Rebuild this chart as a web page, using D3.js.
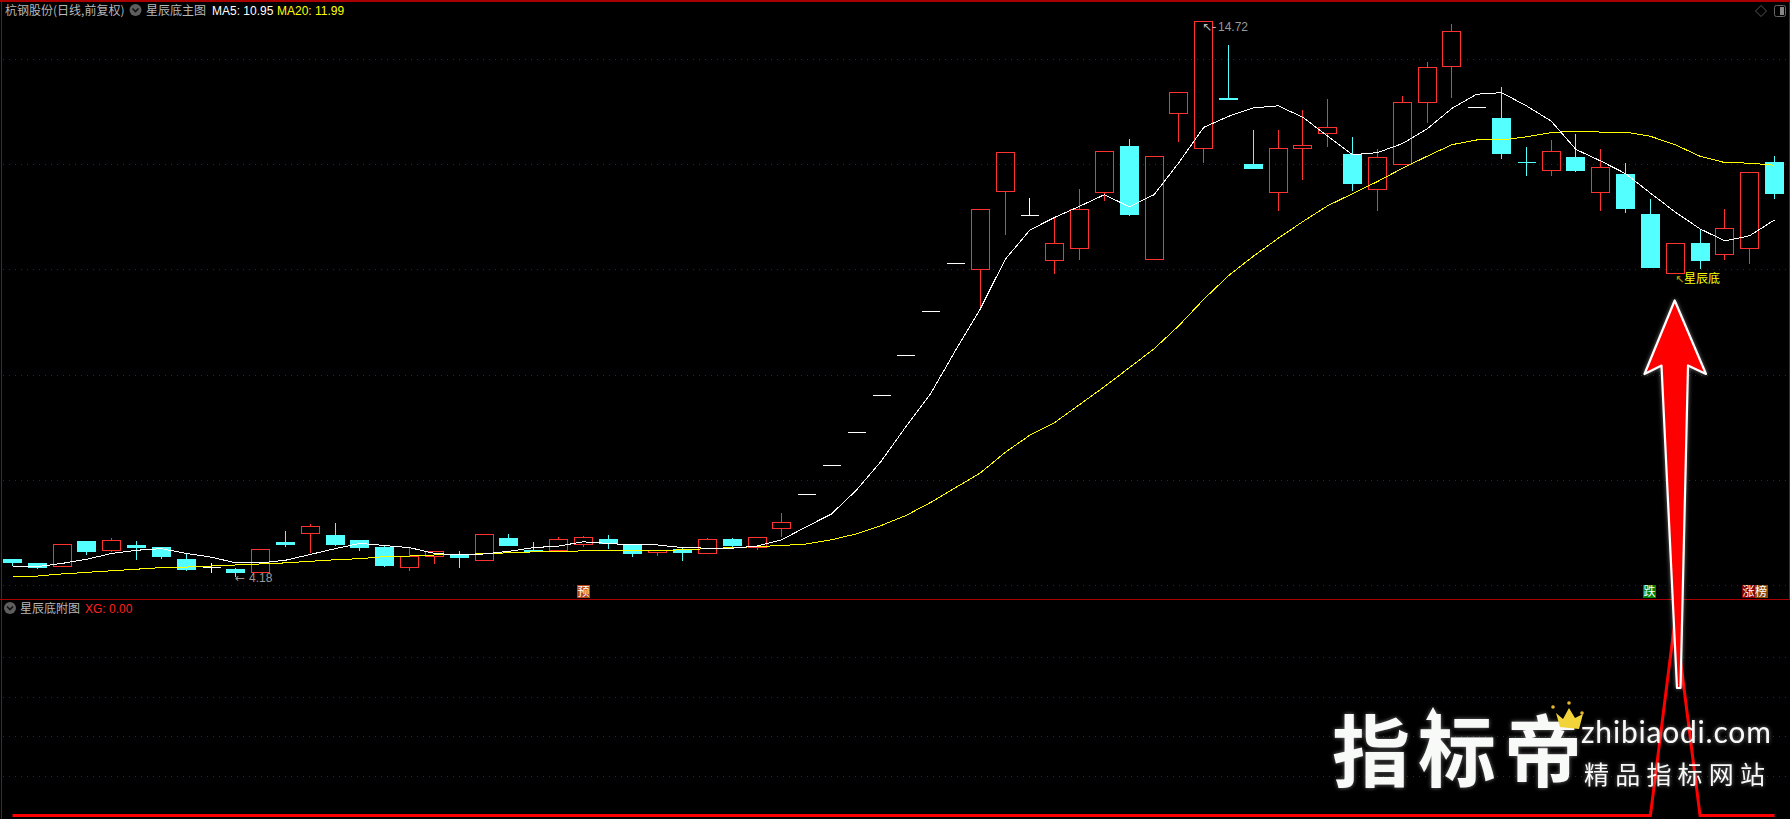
<!DOCTYPE html>
<html><head><meta charset="utf-8">
<script src="https://cdn.jsdelivr.net/npm/d3@7/dist/d3.min.js"></script>
<style>
html,body{margin:0;padding:0;background:#000;overflow:hidden}
svg{display:block}
text{font-family:"Noto Sans CJK SC","Liberation Sans",sans-serif}
</style></head><body>
<svg id="c" width="1790" height="819"></svg>
<script>
const openP=[4.49,4.42,4.37,4.84,4.67,4.76,4.72,4.49,4.34,4.30,4.24,4.82,4.98,4.95,4.86,4.72,4.34,4.56,4.57,4.48,4.89,4.67,4.67,4.77,4.87,4.78,4.63,4.68,4.61,4.87,4.73,5.09,
5.73,6.28,6.90,7.61,8.37,9.21,10.12,10.00,11.50,11.03,10.17,10.40,11.48,12.35,10.19,12.97,12.30,13.25,12.00,11.48,12.30,12.59,12.19,11.53,12.00,13.18,13.86,13.08,12.88,12.05,11.89,12.13,11.48,11.81,11.05,9.93,10.50,10.29,10.40,12.05];
const closeP=[4.44,4.34,4.77,4.65,4.85,4.73,4.55,4.30,4.34,4.25,4.68,4.78,5.12,4.78,4.73,4.38,4.55,4.64,4.53,4.97,4.76,4.64,4.87,4.91,4.79,4.61,4.66,4.63,4.87,4.76,4.91,5.19,
5.73,6.28,6.90,7.61,8.37,9.21,10.12,11.14,12.24,11.03,10.50,11.14,12.26,11.06,12.15,13.37,14.72,13.24,11.93,12.30,12.36,12.70,11.65,12.13,13.18,13.84,14.53,13.08,12.22,12.04,12.26,11.89,11.94,11.17,10.05,10.50,10.17,10.78,11.85,11.46];
const highP=[4.49,4.44,4.77,4.84,4.91,4.86,4.74,4.60,4.44,4.35,4.68,5.05,5.18,5.20,4.87,4.76,4.72,4.64,4.67,4.97,4.99,4.84,4.93,4.95,4.97,4.78,4.68,4.72,4.91,4.91,4.91,5.39,
5.73,6.28,6.90,7.61,8.37,9.21,10.12,11.14,12.24,11.38,10.99,11.55,12.26,12.50,12.15,13.37,14.72,14.28,12.66,12.66,13.05,13.25,12.54,12.30,13.31,13.96,14.68,13.08,13.49,12.35,12.47,12.59,12.30,12.05,11.35,10.50,10.77,11.17,11.85,12.17];
const lowP=[4.38,4.32,4.37,4.59,4.64,4.49,4.51,4.29,4.25,4.18,4.24,4.75,4.62,4.76,4.67,4.36,4.29,4.42,4.34,4.48,4.76,4.64,4.64,4.74,4.70,4.55,4.57,4.48,4.61,4.73,4.68,4.93,
5.73,6.28,6.90,7.61,8.37,9.21,10.12,9.24,10.68,11.03,9.94,10.20,11.31,11.04,10.19,12.44,12.05,13.24,11.93,11.12,11.72,12.35,11.51,11.12,12.00,12.81,13.28,13.08,12.12,11.80,11.80,11.88,11.12,11.10,10.05,9.93,10.03,10.20,10.13,11.36];
const ma5=[4.36,4.36,4.42,4.50,4.61,4.67,4.70,4.61,4.54,4.43,4.43,4.48,4.59,4.70,4.80,4.76,4.72,4.61,4.58,4.60,4.65,4.72,4.75,4.83,4.80,4.77,4.77,4.72,4.71,4.71,4.75,4.87,
5.12,5.36,5.81,6.36,7.02,7.65,8.47,9.26,10.20,10.76,11.00,11.21,11.43,11.20,11.43,12.04,12.71,12.92,13.08,13.12,12.90,12.54,12.19,12.23,12.40,12.68,13.07,13.34,13.37,13.12,12.83,12.29,12.07,11.83,11.46,11.10,10.78,10.55,10.65,10.95];
const ma20=[4.18,4.18,4.22,4.25,4.28,4.31,4.34,4.35,4.37,4.39,4.41,4.43,4.46,4.49,4.51,4.55,4.56,4.58,4.58,4.61,4.62,4.64,4.64,4.66,4.66,4.66,4.66,4.68,4.70,4.72,4.74,4.76,
4.79,4.87,4.98,5.14,5.33,5.58,5.86,6.14,6.53,6.86,7.10,7.44,7.78,8.14,8.50,8.94,9.44,9.89,10.26,10.60,10.92,11.22,11.45,11.68,11.93,12.16,12.38,12.47,12.47,12.53,12.61,12.64,12.62,12.62,12.54,12.38,12.16,12.04,12.03,11.99];
const xg=[0,0,0,0,0,0,0,0,0,0,0,0,0,0,0,0,0,0,0,0,0,0,0,0,0,0,0,0,0,0,0,0,0,0,0,0,0,0,0,0,0,0,0,0,0,0,0,0,0,0,0,0,0,0,0,0,0,0,0,0,0,0,0,0,0,0,0,1,0,0,0,0];
const priceGrid=[14,12,10,8,6,4];
const xgGrid=[0.2,0.4,0.6,0.8];
const tags=[{t:["预"]},{t:["跌"]},{t:["涨","榜"]}];

const RED="#ff3232",CYAN="#54ffff",GRID="#8a0000",FRAME="#a80000";
const svg=d3.select("#c");
const x=d3.scaleLinear().domain([0,71]).range([12.5,1774.5]);
const y=d3.scaleLinear().domain([4,14]).range([585.5,59.5]);
const ys=d3.scaleLinear().domain([0,1]).range([815.5,618.5]);
const px=i=>Math.floor(x(i))+.5;
const py=v=>Math.round(y(v)-.5)+.5;

svg.append("rect").attr("width",1790).attr("height",819).attr("fill","#000");
const crisp=g=>g.attr("shape-rendering","crispEdges");
// grid
const grid=svg.append("g").call(crisp).attr("stroke",GRID).attr("stroke-dasharray","1 5");
grid.selectAll(".a").data(priceGrid).join("line").attr("x1",3).attr("x2",1788).attr("y1",d=>Math.floor(y(d))+.5).attr("y2",d=>Math.floor(y(d))+.5);
grid.selectAll(".b").data(xgGrid).join("line").attr("x1",3).attr("x2",1788).attr("y1",d=>Math.floor(ys(d))+.5).attr("y2",d=>Math.floor(ys(d))+.5);
// frame
const fr=svg.append("g").call(crisp).attr("fill",FRAME);
fr.append("rect").attr("x",0).attr("y",0).attr("width",1790).attr("height",2);
fr.append("rect").attr("x",1).attr("y",0).attr("width",1).attr("height",819);
fr.append("rect").attr("x",1789).attr("y",0).attr("width",1).attr("height",599);
fr.append("rect").attr("x",0).attr("y",599).attr("width",1790).attr("height",1);

// candles
const data=d3.range(openP.length);
const candles=svg.append("g").call(crisp);
data.forEach(i=>{
  const o=openP[i],c=closeP[i],h=highP[i],l=lowP[i],cx=px(i);
  const up=c>o,flat=c===o;
  const col=flat?"#fff":(up?RED:CYAN);
  const t=py(Math.max(o,c)),b=py(Math.min(o,c));
  candles.append("line").attr("x1",cx).attr("x2",cx).attr("y1",py(h)).attr("y2",t).attr("stroke",col);
  candles.append("line").attr("x1",cx).attr("x2",cx).attr("y1",b).attr("y2",py(l)).attr("stroke",col);
  if(t===b){candles.append("line").attr("x1",cx-9).attr("x2",cx+9).attr("y1",t).attr("y2",t).attr("stroke",col);}
  else candles.append("rect").attr("x",cx-9).attr("y",t).attr("width",18).attr("height",b-t)
    .attr("fill",up?"none":CYAN).attr("stroke",col);
});
// MA lines
const line=d3.line().x((d,i)=>x(i)).y(d=>y(d));
svg.append("path").datum(ma20).attr("d",line).attr("fill","none").attr("stroke","#ffff00").attr("shape-rendering","crispEdges");
svg.append("path").datum(ma5).attr("d",line).attr("fill","none").attr("stroke","#ffffff").attr("shape-rendering","crispEdges");
// XG line
svg.append("path").datum(xg).attr("d",d3.line().x((d,i)=>x(i)).y(d=>ys(d))).attr("fill","none").attr("stroke","#ff0000").attr("stroke-width",3).attr("stroke-linejoin","miter");

// header text
function txt(s,xx,yy,col,size,extra){const t=svg.append("text").text(s).attr("x",xx).attr("y",yy).attr("fill",col).attr("font-size",size);if(extra)extra(t);return t;}
function icon(cx,cy){svg.append("circle").attr("cx",cx).attr("cy",cy).attr("r",6).attr("fill","#5e5e5e");
  svg.append("path").attr("d",`M${cx-3},${cy-1.5}L${cx},${cy+1.5}L${cx+3},${cy-1.5}`).attr("fill","none").attr("stroke","#111").attr("stroke-width",1.6);}
const latin=t=>t.style("font-family","'Liberation Sans'");
txt("杭钢股份(日线,前复权)",5,14.5,"#b8b8b8",12);
icon(135.5,10);
txt("星辰底主图",146,14.5,"#b8b8b8",12);
txt("MA5: 10.95",212,14.5,"#ffffff",12,latin);
txt("MA20: 11.99",277,14.5,"#ffff00",12,latin);
icon(10,608);
txt("星辰底附图",20,612.5,"#b8b8b8",12);
txt("XG: 0.00",85,612.5,"#ff2020",12,latin);

// extreme labels
txt("←",235,582,"#999",12,t=>t.style("font-family","'DejaVu Sans'"));
txt("4.18",249,582,"#999",12,latin);
txt("↖-",1202,30.5,"#bbb",12,t=>t.style("font-family","'DejaVu Sans'"));
txt("14.72",1218,30.5,"#999",12,latin);
txt("↖",1675,282.5,"#b8a000",11,t=>t.style("font-family","'DejaVu Sans'"));
txt("星辰底",1684,283,"#ffff00",12);

// tags
const tagCols={"预":"#b4481a","跌":"#008000","涨":"#800000","榜":"#8a4a08"};
tags.forEach((d,n)=>{d.t.forEach((c,k)=>{
  const xx=[577,1643,1742][n]+k*12.5;
  svg.append("rect").attr("x",xx).attr("y",585).attr("width",13).attr("height",13).attr("fill",tagCols[c]).attr("shape-rendering","crispEdges");
  txt(c,xx+.5,596,"#fff",12);
});});

// corner icons
svg.append("path").attr("d","M1761,5.5L1766.5,11L1761,16.5L1755.5,11Z").attr("fill","none").attr("stroke","#555");
svg.append("rect").attr("x",1774.5).attr("y",5.5).attr("width",11).attr("height",11).attr("rx",2).attr("fill","none").attr("stroke","#666");
svg.append("rect").attr("x",1780).attr("y",7).attr("width",4).attr("height",8).attr("fill","#888");

// big arrow overlay
const defs=svg.append("defs");
const f=defs.append("filter").attr("id","glow").attr("x","-30%").attr("y","-30%").attr("width","160%").attr("height","160%");
f.append("feGaussianBlur").attr("in","SourceAlpha").attr("stdDeviation",2).attr("result","b");
f.append("feFlood").attr("flood-color","#fff").attr("flood-opacity",.45);
f.append("feComposite").attr("in2","b").attr("operator","in").attr("result","s");
const mg=f.append("feMerge");mg.append("feMergeNode").attr("in","s");mg.append("feMergeNode").attr("in","SourceGraphic");
svg.append("path").attr("d","M1674.7,300.5L1706,374L1688,365.5L1680.5,688L1677,688L1661.5,365.5L1644.5,374Z")
  .attr("fill","#ff0000").attr("stroke","#fff").attr("stroke-width",2.2).attr("stroke-linejoin","round").attr("filter","url(#glow)");

// watermark
const wm=svg.append("g").attr("filter","url(#glow)");
const wt=(s,xx,yy,size,w,ls,fam)=>wm.append("text").text(s).attr("x",xx).attr("y",yy).attr("fill","#f8faf8").attr("font-size",size).attr("font-weight",w).style("letter-spacing",ls+"px").style("font-family",fam);
wt("指标帝",1332,781,78,700,8,"'Noto Sans CJK SC'");
wm.append("path").attr("d","M1433,707L1440,720L1426,720Z").attr("fill","#f8faf8");
wt("zhibiaodi.com",1581,743,30,400,0.8,"'Lato'");
wt("精品指标网站",1584,784,25,400,6.2,"'Noto Sans CJK SC'");
const cr=svg.append("g");
cr.append("path").attr("d","M1556,713L1563,719L1569,708L1575,718L1583,714L1579,729L1560,727Z").attr("fill","#f2d43a");
[[1553,708],[1569,704],[1582,714]].forEach(p=>cr.append("circle").attr("cx",p[0]).attr("cy",p[1]-1).attr("r",1.8).attr("fill","#e8b830"));
</script>
</body></html>
